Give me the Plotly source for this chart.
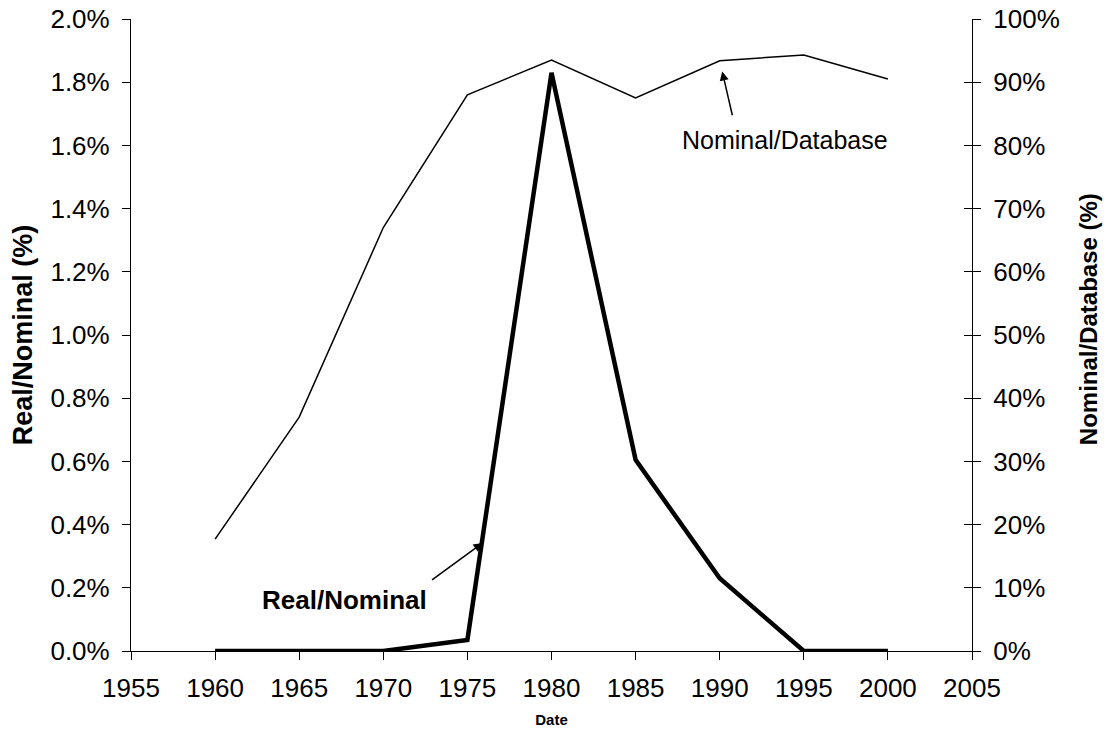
import plotly.graph_objects as go

years = [1960, 1965, 1970, 1975, 1980, 1985, 1990, 1995, 2000]
real_nominal = [0.0, 0.0, 0.0, 0.035, 1.83, 0.605, 0.23, 0.0, 0.0]          # % (left axis)
nominal_database = [17.7, 37.0, 67.0, 88.0, 93.5, 87.5, 93.4, 94.3, 90.5]  # % (right axis)

FONT = "Liberation Sans, Arial, sans-serif"
TICK_FONT = dict(family=FONT, size=26, color="black")

fig = go.Figure()

fig.add_trace(go.Scatter(x=years, y=nominal_database, mode="lines", yaxis="y2",
                         line=dict(color="black", width=1.5), showlegend=False))
fig.add_trace(go.Scatter(x=years, y=real_nominal, mode="lines", yaxis="y",
                         line=dict(color="black", width=4.5), showlegend=False))
# invisible trace so the helper axis (inner half of the right-hand ticks) is drawn
fig.add_trace(go.Scatter(x=years[:1], y=nominal_database[:1], yaxis="y3", mode="markers",
                         marker=dict(opacity=0), showlegend=False, hoverinfo="skip"))

# annotations: labels and pointer arrows
fig.add_annotation(x=1993.9, y=80.9, xref="x", yref="y2", text="Nominal/Database",
                   showarrow=False, font=dict(family=FONT, size=25, color="black"))
fig.add_annotation(x=years[6], y=nominal_database[6], xref="x", yref="y2", text="",
                   showarrow=True, arrowhead=2, arrowsize=1.2, arrowwidth=1.5,
                   arrowcolor="black", standoff=11, ax=13, ay=56)
fig.add_annotation(x=1967.7, y=0.161, xref="x", yref="y", text="<b>Real/Nominal</b>",
                   showarrow=False, font=dict(family=FONT, size=26, color="black"))
fig.add_annotation(x=1975.9, y=0.342, xref="x", yref="y", text="",
                   showarrow=True, arrowhead=2, arrowsize=1.2, arrowwidth=1.5,
                   arrowcolor="black", standoff=0, ax=-52, ay=38)

# right-hand axis title (sits a little above centre in the original)
fig.add_annotation(x=1 + 116 / 841, y=0.525, xref="paper", yref="paper",
                   xanchor="center", yanchor="middle",
                   text="<b>Nominal/Database (%)</b>", textangle=-90, showarrow=False,
                   font=dict(family=FONT, size=24, color="black"))

fig.update_layout(
    width=1107, height=738,
    paper_bgcolor="white", plot_bgcolor="white",
    font=dict(family=FONT, color="black"),
    margin=dict(l=131, r=135, t=19, b=87, autoexpand=False),
    xaxis=dict(range=[1955, 2005], dtick=5, tick0=1955, showgrid=False, zeroline=False,
               showline=True, linecolor="black", linewidth=1.2, automargin=False,
               ticks="outside", ticklen=8, tickcolor="black", tickfont=TICK_FONT,
               ticklabelstandoff=6, ticklabeloverflow="allow",
               title=dict(text="<b>Date</b>", font=dict(family=FONT, size=15), standoff=12)),
    yaxis=dict(range=[0, 2.0], dtick=0.2, tickformat=".1f", ticksuffix="%",
               showgrid=False, zeroline=False, showline=True, linecolor="black",
               linewidth=1.2, ticks="outside", ticklen=8, tickcolor="black",
               tickfont=TICK_FONT, ticklabelstandoff=7, automargin=False,
               ticklabeloverflow="allow",
               title=dict(text="<b>Real/Nominal (%)</b>", font=dict(family=FONT, size=27),
                          standoff=9)),
    yaxis2=dict(range=[0, 100], dtick=10, ticksuffix="%", overlaying="y", side="right",
                anchor="x", showgrid=False, zeroline=False, showline=True, automargin=False,
                linecolor="black", linewidth=1.2, ticks="outside", ticklen=8,
                tickcolor="black", tickfont=TICK_FONT, ticklabelstandoff=7,
                ticklabeloverflow="allow"),
    yaxis3=dict(range=[0, 100], dtick=10, overlaying="y", side="right", anchor="x",
                showgrid=False, zeroline=False, showline=False, showticklabels=False,
                automargin=False, ticks="inside", ticklen=8, tickcolor="black"),
)

# drop the default 8px body margin so the figure sits flush in the window
fig.write_html("out.html", config={"displayModeBar": False},
               post_script="document.body.style.margin='0';")
